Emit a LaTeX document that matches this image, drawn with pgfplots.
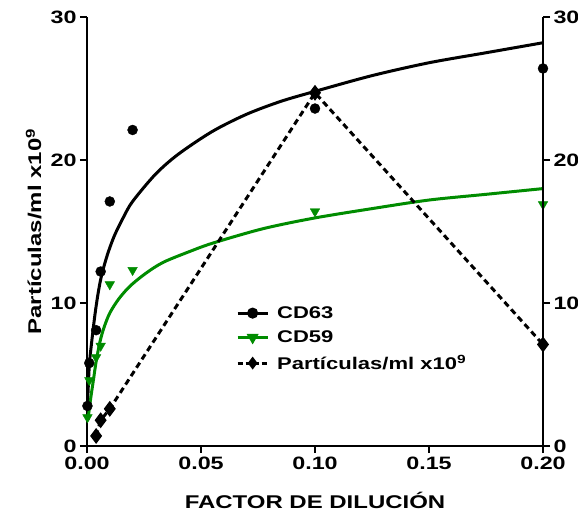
\documentclass[border=0pt]{standalone}
\usepackage{fontspec}
\setmainfont{Liberation Sans}[FakeStretch=1.3]
\usepackage{pgfplots}
\pgfplotsset{compat=1.18}
\definecolor{cdgreen}{RGB}{0,140,0}

\begin{document}
\begin{tikzpicture}[font=\bfseries]
\useasboundingbox (-87bp,-83bp) rectangle (491bp,446bp);
\pgfplotsset{
  base/.style={
    width=456bp, height=429bp, scale only axis,
    xmin=0, xmax=0.2, ymin=0, ymax=30,
    ytick={0,10,20,30},
    tick align=outside, major tick length=7bp,
    axis line style={-, line width=2.4bp},
    every tick/.style={black, line width=2.2bp},
    tick label style={font=\fontsize{18}{18}\selectfont\bfseries},
    /pgf/number format/assume math mode=true,
  }}
\begin{axis}[base,
  axis x line*=bottom, axis y line*=left,
  xtick={0,0.05,0.1,0.15,0.2},
  x tick label style={/pgf/number format/.cd, fixed, fixed zerofill, precision=2, /tikz/.cd},
  xlabel={FACTOR DE DILUCIÓN},
  ylabel={Partículas/ml x10\textsuperscript{9}},
  label style={font=\fontsize{18.5}{18.5}\selectfont\bfseries},
  xlabel style={at={(axis description cs:0.5,-0.126)}, anchor=center},
  ylabel style={at={(axis description cs:-0.092,0.5)}, anchor=south},
  legend style={at={(0.32,0.335)}, anchor=north west, draw=none, fill=none,
    font=\fontsize{17}{17}\selectfont\bfseries, row sep=7bp, column sep=6bp},
  legend cell align=left,
  legend image code/.code={\draw[mark repeat=2, mark phase=2]
    plot coordinates {(0cm,0cm) (0.53cm,0cm) (1.06cm,0cm)};},
]
% fitted curves
\addplot[black, line width=3bp, smooth, forget plot] coordinates {
  (0.0002,2.8) (0.001,5.6) (0.002,7.2) (0.0035,9.2) (0.005,10.8)
  (0.0065,12.0) (0.009,13.4) (0.012,14.7) (0.016,16.0) (0.02,17.1)
  (0.03,19.0) (0.04,20.4) (0.055,22.0) (0.07,23.2) (0.085,24.1)
  (0.1,24.8) (0.125,25.9) (0.15,26.8) (0.175,27.5) (0.2,28.2)};
\addplot[cdgreen, line width=3bp, smooth, forget plot] coordinates {
  (0.0004,1.8) (0.0015,3.2) (0.0028,4.6) (0.004,5.9) (0.0057,7.3)
  (0.0075,8.3) (0.01,9.3) (0.014,10.3) (0.019,11.2) (0.026,12.1)
  (0.0335,12.85) (0.045,13.6) (0.0554,14.2) (0.0773,15.2) (0.1,15.95)
  (0.125,16.6) (0.15,17.2) (0.175,17.6) (0.2,18.0)};
% particles
\addplot[black, line width=3bp, dash pattern=on 6bp off 4bp,
  mark=diamond*, mark size=5.5bp, mark options={solid}, forget plot] coordinates {
  (0.004,0.7) (0.006,1.8) (0.01,2.6) (0.1,24.7) (0.2,7.1)};
% measured points
\addplot[only marks, black, mark=*, mark size=5bp, forget plot] coordinates {
  (0.0002,2.8) (0.001,5.8) (0.004,8.1) (0.006,12.2) (0.01,17.1)
  (0.02,22.1) (0.1,23.6) (0.2,26.4)};
\addplot[only marks, cdgreen, mark=triangle*, mark size=5.5bp,
  mark options={rotate=180}, forget plot] coordinates {
  (0.0002,2.0) (0.001,4.6) (0.004,6.2) (0.006,7.0) (0.01,11.3)
  (0.02,12.3) (0.1,16.4) (0.2,16.9)};

\addlegendimage{black, line width=3bp, mark=*, mark size=4bp}
\addlegendentry{CD63}
\addlegendimage{cdgreen, line width=3bp, mark=triangle*, mark size=4bp, mark options={rotate=180}}
\addlegendentry{CD59}
\addlegendimage{black, line width=3bp, dash pattern=on 5bp off 3bp, mark=diamond*, mark size=4bp, mark options={solid}}
\addlegendentry{Partículas/ml x10\textsuperscript{9}}
\end{axis}
\begin{axis}[base, axis y line*=right, axis x line=none, yticklabel pos=right]
\end{axis}
\end{tikzpicture}
\end{document}
